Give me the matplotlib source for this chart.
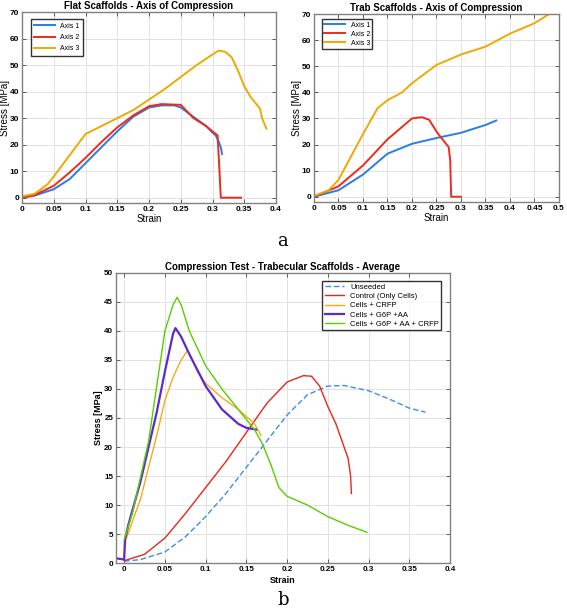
import numpy as np
import matplotlib
matplotlib.use('Agg')
import matplotlib.pyplot as plt

plt.rcParams['font.family'] = ['Liberation Sans', 'DejaVu Sans']

# ---- (a) Flat scaffolds ----
flat_x1 = [0, 0.02, 0.05, 0.075, 0.1, 0.125, 0.15, 0.175, 0.2, 0.22, 0.24, 0.25, 0.27, 0.29, 0.3, 0.305, 0.31, 0.313, 0.315]
flat_y1 = [0, 0.8, 3.2, 7, 13, 19, 25, 30.5, 34, 34.8, 34.8, 34, 30.5, 27, 24.5, 23.5, 21, 19, 16.5]
flat_x2 = [0, 0.02, 0.05, 0.075, 0.1, 0.125, 0.15, 0.175, 0.2, 0.22, 0.25, 0.27, 0.29, 0.3, 0.308, 0.311, 0.313, 0.345]
flat_y2 = [0, 1, 4.5, 9.5, 15, 21, 26.5, 31, 34.5, 35.3, 35, 30, 27, 25, 23.5, 10, 0, 0]
flat_x3 = [0, 0.02, 0.04, 0.05, 0.075, 0.1, 0.125, 0.15, 0.175, 0.2, 0.225, 0.25, 0.275, 0.3, 0.31, 0.32, 0.33, 0.34, 0.35, 0.36, 0.37, 0.375, 0.378, 0.385]
flat_y3 = [0.5, 1.5, 5, 8, 16, 24, 27, 30, 33, 37, 41, 45.5, 50, 54, 55.5, 55, 53, 48, 42, 38, 35, 33.5, 30, 26]

# ---- (a) Trabecular scaffolds ----
trab_x1 = [0, 0.05, 0.1, 0.15, 0.2, 0.25, 0.3, 0.35, 0.372]
trab_y1 = [0, 2.5, 8.5, 16.5, 20.3, 22.5, 24.5, 27.5, 29.2]
trab_x2 = [0, 0.05, 0.1, 0.15, 0.2, 0.22, 0.235, 0.25, 0.26, 0.275, 0.278, 0.28, 0.3]
trab_y2 = [0, 4, 12, 22, 30, 30.5, 29.5, 25, 22.5, 19, 14, 0, 0]
trab_x3 = [0, 0.03, 0.05, 0.1, 0.13, 0.15, 0.18, 0.2, 0.25, 0.3, 0.35, 0.4, 0.45, 0.48]
trab_y3 = [0.3, 2.5, 6.5, 24, 34, 37, 40, 43.5, 50.5, 54.5, 57.5, 62.5, 66.5, 70]

axis_labels = ['Axis 1', 'Axis 2', 'Axis 3']

# ---- (b) Average ----
uns_x = [0, 0.02, 0.05, 0.075, 0.1, 0.125, 0.15, 0.175, 0.2, 0.225, 0.25, 0.27, 0.3, 0.325, 0.35, 0.37]
uns_y = [0.3, 0.6, 1.9, 4.5, 8, 12, 16.5, 21, 25.5, 29, 30.5, 30.6, 29.7, 28.3, 26.7, 26]
ctrl_x = [0, 0.025, 0.05, 0.075, 0.1, 0.125, 0.15, 0.175, 0.2, 0.22, 0.23, 0.24, 0.25, 0.26, 0.27, 0.275, 0.278, 0.279]
ctrl_y = [0.4, 1.5, 4.3, 8.5, 13, 17.5, 22.5, 27.5, 31.2, 32.3, 32.2, 30.5, 27, 24, 20, 18, 15, 12]
crfp_x = [0, 0.002, 0.02, 0.04, 0.05, 0.06, 0.07, 0.078, 0.09, 0.1, 0.12, 0.14, 0.16, 0.168]
crfp_y = [1, 4, 11, 22, 28, 32, 35, 36.7, 33, 31, 28.5, 26.5, 24, 22]
g6p_x = [-0.009, 0, 0.001, 0.005, 0.02, 0.04, 0.05, 0.06, 0.063, 0.07, 0.08, 0.1, 0.12, 0.14, 0.15, 0.162]
g6p_y = [0.8, 0.6, 4, 6.5, 14, 26, 33, 39.5, 40.5, 39, 36, 30.5, 26.5, 24, 23.3, 23]
all_x = [0, 0.01, 0.03, 0.05, 0.06, 0.065, 0.07, 0.08, 0.1, 0.12, 0.14, 0.16, 0.17, 0.18, 0.19, 0.2, 0.225, 0.25, 0.275, 0.298]
all_y = [4, 8.5, 21, 40, 44.5, 45.8, 44.5, 40, 34, 30, 26.5, 23, 20.5, 17, 13, 11.5, 10, 8, 6.5, 5.3]
avg_labels = ['Unseeded', 'Control (Only Cells)', 'Cells + CRFP', 'Cells + G6P +AA', 'Cells + G6P + AA + CRFP']

blue, red, yellow = '#2B7BE8', '#EE2A1B', '#EDAA00'


def style(ax, size=6):
    ax.grid(True, color='#dddddd', linewidth=0.6)
    ax.set_axisbelow(True)
    ax.tick_params(direction='in', top=True, right=True, labelsize=size, length=3,
                   color='#444444', width=0.6, pad=2)
    for s in ax.spines.values():
        s.set_color('#808080')
        s.set_linewidth(1.0)
    for lab in ax.get_xticklabels() + ax.get_yticklabels():
        lab.set_fontweight('bold')


fig = plt.figure(figsize=(5.67, 6.12), dpi=100)

ax1 = fig.add_axes([0.0388, 0.6683, 0.448, 0.312])
ax1.plot(flat_x1, flat_y1, color=blue, lw=1.4, label=axis_labels[0])
ax1.plot(flat_x2, flat_y2, color=red, lw=1.4, label=axis_labels[1])
ax1.plot(flat_x3, flat_y3, color=yellow, lw=1.4, label=axis_labels[2])
ax1.set_xlim(0, 0.4)
ax1.set_ylim(-2, 70)
ax1.set_xticks(np.arange(0, 0.41, 0.05))
ax1.set_xticklabels(['0', '0.05', '0.1', '0.15', '0.2', '0.25', '0.3', '0.35', '0.4'])
ax1.set_yticks(range(0, 71, 10))
ax1.set_xlabel('Strain', fontsize=7, labelpad=1)
ax1.set_ylabel('Stress [MPa]', fontsize=7, labelpad=0)
ax1.set_title('Flat Scaffolds - Axis of Compression', fontsize=7, fontweight='bold', pad=2)
style(ax1)
ax1.legend(loc='upper left', fontsize=5, frameon=True, fancybox=False, edgecolor='black',
           handlelength=3, borderpad=0.5, labelspacing=0.6, bbox_to_anchor=(0.02, 0.98))

ax2 = fig.add_axes([0.5538, 0.670, 0.432, 0.307])
ax2.plot(trab_x1, trab_y1, color=blue, lw=1.4, label=axis_labels[0])
ax2.plot(trab_x2, trab_y2, color=red, lw=1.4, label=axis_labels[1])
ax2.plot(trab_x3, trab_y3, color=yellow, lw=1.4, label=axis_labels[2])
ax2.set_xlim(0, 0.5)
ax2.set_ylim(-2, 70)
ax2.set_xticks(np.arange(0, 0.51, 0.05))
ax2.set_xticklabels(['0', '0.05', '0.1', '0.15', '0.2', '0.25', '0.3', '0.35', '0.4', '0.45', '0.5'])
ax2.set_yticks(range(0, 71, 10))
ax2.set_xlabel('Strain', fontsize=7, labelpad=1)
ax2.set_ylabel('Stress [MPa]', fontsize=7, labelpad=0)
ax2.set_title('Trab Scaffolds - Axis of Compression', fontsize=7, fontweight='bold', pad=2)
style(ax2)
ax2.legend(loc='upper left', fontsize=5, frameon=True, fancybox=False, edgecolor='black',
           handlelength=3, borderpad=0.3, labelspacing=0.3, bbox_to_anchor=(0.02, 0.99))

ax3 = fig.add_axes([0.2046, 0.080, 0.589, 0.474])
ax3.plot(uns_x, uns_y, color='#3C8CF5', lw=1.0, ls='--', dashes=(4, 2), label=avg_labels[0])
ax3.plot(ctrl_x, ctrl_y, color='#E8261A', lw=1.0, label=avg_labels[1])
ax3.plot(crfp_x, crfp_y, color='#F5AA1C', lw=1.0, label=avg_labels[2])
ax3.plot(g6p_x, g6p_y, color='#5A2BD0', lw=1.6, label=avg_labels[3])
ax3.plot(all_x, all_y, color='#55D000', lw=1.0, label=avg_labels[4])
ax3.set_xlim(-0.01, 0.4)
ax3.set_ylim(0, 50)
ax3.set_xticks(np.arange(0, 0.41, 0.05))
ax3.set_xticklabels(['0', '0.05', '0.1', '0.15', '0.2', '0.25', '0.3', '0.35', '0.4'])
ax3.set_yticks(range(0, 51, 5))
ax3.set_xlabel('Strain', fontsize=6.5, fontweight='bold', labelpad=2)
ax3.set_ylabel('Stress [MPa]', fontsize=6.5, fontweight='bold', labelpad=1)
ax3.set_title('Compression Test - Trabecular Scaffolds - Average', fontsize=7, fontweight='bold', pad=2)
style(ax3, 5.8)
ax3.legend(loc='upper right', fontsize=5.5, frameon=True, fancybox=False, edgecolor='black',
           handlelength=2.5, borderpad=0.3, labelspacing=0.25, bbox_to_anchor=(0.985, 0.985))

fig.text(0.499, 0.606, 'a', fontsize=13, family='DejaVu Serif', ha='center', va='center')
fig.text(0.499, 0.020, 'b', fontsize=13, family='DejaVu Serif', ha='center', va='center')

fig.savefig('out.png', dpi=100)
